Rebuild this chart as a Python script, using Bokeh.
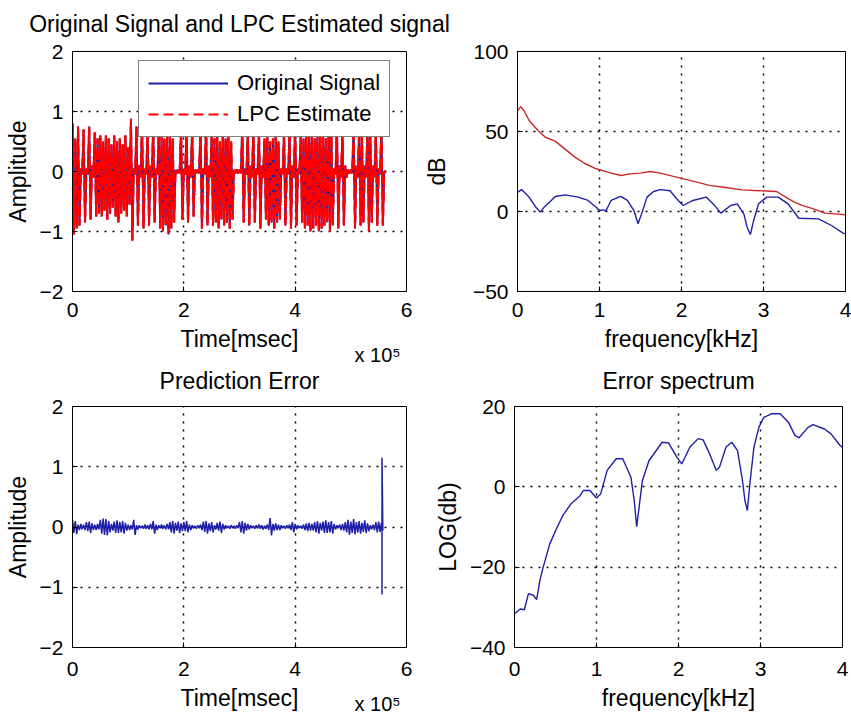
from bokeh.plotting import figure
from bokeh.layouts import row, column
from bokeh.models import Legend, LegendItem, FixedTicker, Range1d, LinearAxis
from bokeh.embed import file_html
from bokeh.resources import INLINE

FONT = "Liberation Sans"
BLUE = "#1f1fa8"
RED_DENSE = "#ff0000"
RED_LINE = "#c62a2a"

# ---------------- data (time in units of 1e5 msec) ----------------
SIG_STEP = 0.05
# envelope of signal read per 0.05e5 msec (upper / lower excursion)
sig_hi = [0.80, 0.55, 0.75, 0.05, 0.70, 0.05, 0.75, 0.10, 0.65, 0.55,
          0.60, 0.50, 0.60, 0.55, 0.45, 0.60, 0.50, 0.55, 0.45, 0.60,
          0.40, 0.88, 0.05, 0.75, 0.10, 0.80, 0.05, 0.70, 0.10, 0.75,
          0.05, 0.65, 0.60, 0.55, 0.65, 0.60, 0.55, 0.03, 0.03, 0.70,
          0.05, 0.75, 0.10, 0.70, 0.03, 0.03, 0.75, 0.05, 0.80, 0.10,
          0.60, 0.55, 0.60, 0.50, 0.65, 0.55, 0.60, 0.50, 0.03, 0.03,
          0.03, 0.75, 0.05, 0.70, 0.10, 0.75, 0.05, 0.70, 0.10, 0.55,
          0.60, 0.50, 0.55, 0.60, 0.50, 0.05, 0.65, 0.05, 0.70, 0.10,
          0.75, 0.05, 0.60, 0.55, 0.65, 0.60, 0.70, 0.55, 0.65, 0.60,
          0.70, 0.55, 0.65, 0.60, 0.05, 0.75, 0.10, 0.70, 0.10, 0.03,
          0.03, 0.75, 0.10, 0.70, 0.60, 0.10, 0.75, 0.60, 0.10, 0.70,
          0.05, 0.75, 0.00]
sig_lo = [-1.05, -0.95, -0.90, -0.05, -0.85, -0.05, -0.80, -0.10, -0.75, -0.70,
          -0.75, -0.65, -0.80, -0.70, -0.60, -0.75, -0.85, -0.70, -0.65, -0.75,
          -0.55, -1.15, -0.05, -0.90, -0.10, -0.95, -0.05, -0.90, -0.10, -0.85,
          -0.05, -0.95, -1.00, -0.90, -1.05, -0.95, -0.85, -0.03, -0.03, -0.80,
          -0.05, -0.85, -0.10, -0.75, -0.03, -0.03, -0.95, -0.05, -0.90, -0.10,
          -0.90, -0.85, -0.95, -0.80, -0.90, -0.85, -0.95, -0.80, -0.03, -0.03,
          -0.03, -0.85, -0.05, -0.90, -0.10, -0.85, -0.05, -0.95, -0.10, -0.80,
          -0.90, -0.85, -0.95, -0.85, -0.80, -0.05, -0.90, -0.05, -0.95, -0.10,
          -0.90, -0.05, -0.85, -0.95, -0.90, -1.00, -0.95, -0.90, -1.00, -0.95,
          -0.90, -0.85, -1.00, -0.90, -0.05, -0.95, -0.10, -0.90, -0.10, -0.03,
          -0.03, -0.95, -0.10, -0.90, -0.85, -0.10, -1.00, -0.85, -0.10, -0.90,
          -0.05, -0.90, 0.00]

# prediction error envelope per 0.05e5 msec
err_hi = [0.12, 0.10, 0.04, 0.05, 0.04, 0.08, 0.09, 0.06, 0.04, 0.05,
          0.12, 0.14, 0.13, 0.10, 0.05, 0.09, 0.11, 0.08, 0.10, 0.07,
          0.04, 0.03, 0.12, 0.03, 0.03, 0.02, 0.04, 0.03, 0.05, 0.10,
          0.04, 0.03, 0.04, 0.03, 0.05, 0.08, 0.10, 0.07, 0.09, 0.06,
          0.08, 0.10, 0.04, 0.03, 0.02, 0.03, 0.04, 0.09, 0.10, 0.06,
          0.08, 0.03, 0.07, 0.09, 0.05, 0.03, 0.02, 0.03, 0.02, 0.03,
          0.08, 0.10, 0.07, 0.05, 0.03, 0.02, 0.03, 0.04, 0.03, 0.02,
          0.04, 0.15, 0.05, 0.06, 0.04, 0.03, 0.02, 0.03, 0.04, 0.08,
          0.05, 0.03, 0.02, 0.04, 0.06, 0.07, 0.05, 0.08, 0.10, 0.07,
          0.09, 0.11, 0.08, 0.10, 0.05, 0.03, 0.04, 0.05, 0.08, 0.12,
          0.09, 0.13, 0.08, 0.10, 0.07, 0.11, 0.06, 0.03, 0.04, 0.08,
          0.09, 0.07]
err_lo = [-0.10, -0.12, -0.05, -0.04, -0.05, -0.07, -0.10, -0.05, -0.05, -0.04,
          -0.11, -0.13, -0.14, -0.09, -0.06, -0.10, -0.10, -0.09, -0.11, -0.06,
          -0.05, -0.04, -0.13, -0.04, -0.02, -0.03, -0.03, -0.04, -0.04, -0.11,
          -0.05, -0.02, -0.03, -0.04, -0.04, -0.09, -0.11, -0.06, -0.10, -0.07,
          -0.07, -0.09, -0.05, -0.02, -0.03, -0.02, -0.05, -0.08, -0.11, -0.07,
          -0.09, -0.04, -0.06, -0.10, -0.04, -0.02, -0.03, -0.02, -0.03, -0.02,
          -0.09, -0.11, -0.06, -0.04, -0.02, -0.03, -0.02, -0.03, -0.04, -0.03,
          -0.05, -0.14, -0.06, -0.05, -0.05, -0.02, -0.03, -0.02, -0.05, -0.09,
          -0.04, -0.02, -0.03, -0.05, -0.07, -0.06, -0.06, -0.09, -0.11, -0.06,
          -0.10, -0.10, -0.09, -0.11, -0.04, -0.02, -0.05, -0.06, -0.09, -0.13,
          -0.10, -0.12, -0.09, -0.11, -0.08, -0.10, -0.07, -0.04, -0.05, -0.09,
          -0.08, -0.06]
spike_t = 5.56
spike_hi = 1.15
spike_lo = -1.12

# spectra
lpc_f = [0.00, 0.04, 0.08, 0.14, 0.25, 0.34, 0.46, 0.58, 0.70, 0.82,
         0.96, 1.10, 1.26, 1.37, 1.50, 1.62, 1.74, 1.94, 2.14, 2.34,
         2.54, 2.74, 2.95, 3.16, 3.27, 3.37, 3.47, 3.60, 3.75, 3.88, 4.00]
lpc_db = [63.0, 65.5, 63.0, 57.0, 50.6, 46.4, 44.0, 39.0, 34.0, 30.0,
          26.7, 24.6, 22.5, 23.5, 24.0, 25.0, 24.0, 21.5, 19.0, 16.3,
          15.0, 13.5, 13.0, 12.5, 9.0, 6.0, 3.8, 1.8, -1.0, -1.5, -2.0]

orig_f = [0.00, 0.05, 0.14, 0.22, 0.28, 0.33, 0.39, 0.46, 0.58, 0.74,
          0.86, 0.96, 1.00, 1.04, 1.08, 1.14, 1.26, 1.34, 1.42, 1.47,
          1.52, 1.58, 1.66, 1.74, 1.86, 1.96, 2.02, 2.14, 2.30, 2.40,
          2.48, 2.60, 2.68, 2.76, 2.80, 2.84, 2.88, 2.94, 3.04, 3.18,
          3.30, 3.43, 3.67, 3.83, 3.97, 4.00]
orig_db = [12.0, 13.7, 9.0, 3.0, -0.4, 3.0, 5.8, 9.4, 10.4, 9.0,
           6.9, 2.7, 0.6, 1.0, 0.5, 6.9, 9.4, 6.9, 0.6, -7.7,
           -0.4, 9.0, 12.5, 13.7, 13.0, 6.9, 3.75, 6.9, 9.0, 4.0,
           -1.0, 3.75, 4.8, -1.5, -9.8, -14.4, -5.6, 4.8, 9.0, 9.0,
           4.8, -4.2, -4.6, -8.75, -13.5, -14.0]

errspec_f = [0.00, 0.07, 0.12, 0.17, 0.23, 0.27, 0.31, 0.35, 0.43, 0.51,
             0.59, 0.69, 0.80, 0.84, 0.92, 1.00, 1.05, 1.13, 1.24, 1.32,
             1.42, 1.46, 1.49, 1.52, 1.56, 1.64, 1.80, 1.88, 1.98, 2.04,
             2.14, 2.24, 2.30, 2.38, 2.46, 2.50, 2.58, 2.65, 2.72, 2.78,
             2.81, 2.84, 2.87, 2.92, 2.98, 3.04, 3.14, 3.24, 3.34, 3.42,
             3.47, 3.58, 3.64, 3.78, 3.86, 3.97, 4.00]
errspec_db = [-31.6, -30.4, -30.6, -26.6, -27.0, -28.1, -23.3, -20.0, -14.2, -10.5,
              -7.1, -4.2, -2.2, -0.9, -0.9, -2.8, -1.8, 4.1, 7.0, 7.0,
              2.4, -3.4, -9.9, -5.0, 1.6, 6.5, 11.1, 10.9, 7.4, 5.7,
              9.9, 12.0, 11.7, 8.2, 4.1, 4.9, 9.9, 11.1, 9.0, 1.6,
              -3.4, -5.9, 0.7, 9.9, 14.8, 17.3, 18.2, 18.2, 16.1, 12.8,
              12.2, 14.8, 15.5, 14.4, 13.2, 10.3, 9.8]

time_ticks = [0, 2, 4, 6]
amp_ticks = [-2, -1, 0, 1, 2]
freq_ticks = [0, 1, 2, 3, 4]
db_ticks = [-50, 0, 50, 100]
log_ticks = [-40, -20, 0, 20]
exponent_text = "x 10\u2075"
EXPONENT_AT = 5.48   # where the "x 10^5" multiplier sits along the time axis


def zigzag(hi, lo, step):
    xs, ys = [], []
    for i, (h, l) in enumerate(zip(hi, lo)):
        t = i * step
        xs += [t, t + step / 2]
        ys += [h, l]
    return xs, ys


def make_fig(xr, yr, xt, yt, xlabel, ylabel, title, fw, fh,
             mbl, mbr, mbt, mbb, ylab_standoff, xtick_standoff,
             title_standoff=12):
    p = figure(frame_width=fw, frame_height=fh,
               x_range=Range1d(*xr), y_range=Range1d(*yr),
               output_backend="svg", toolbar_location=None, tools="",
               min_border_left=mbl, min_border_right=mbr,
               min_border_top=mbt, min_border_bottom=mbb,
               title=title)
    p.background_fill_color = "white"
    p.border_fill_alpha = 0
    p.outline_line_color = "black"
    p.outline_line_width = 1
    p.outline_line_alpha = 1
    if title:
        p.title.text_font = FONT
        p.title.text_font_size = "23px"
        p.title.text_font_style = "normal"
        p.title.text_color = "black"
        p.title.align = "center"
        p.title.standoff = title_standoff
    p.xaxis.ticker = FixedTicker(ticks=xt)
    p.yaxis.ticker = FixedTicker(ticks=yt)
    p.xgrid.ticker = FixedTicker(ticks=xt)
    p.ygrid.ticker = FixedTicker(ticks=yt)
    p.xaxis.axis_label = xlabel
    p.yaxis.axis_label = ylabel
    for ax in (p.xaxis[0], p.yaxis[0]):
        ax.major_label_text_font = FONT
        ax.major_label_text_font_size = "21px"
        ax.major_label_text_color = "black"
        ax.axis_label_text_font = FONT
        ax.axis_label_text_font_size = "23px"
        ax.axis_label_text_font_style = "normal"
        ax.axis_label_text_color = "black"
        ax.axis_line_color = "black"
        ax.major_tick_line_color = "black"
        ax.major_tick_in = 5
        ax.major_tick_out = 0
        ax.minor_tick_line_color = None
    p.xaxis.major_label_standoff = xtick_standoff
    p.yaxis.major_label_standoff = 9
    p.xaxis.axis_label_standoff = 6
    p.yaxis.axis_label_standoff = ylab_standoff
    p.grid.grid_line_color = "black"
    p.grid.grid_line_dash = "2 6"
    p.grid.grid_line_width = 1.5
    p.grid.grid_line_alpha = 1
    return p


def add_exponent(p, standoff):
    ax = LinearAxis(ticker=FixedTicker(ticks=[EXPONENT_AT]),
                    major_label_overrides={EXPONENT_AT: exponent_text})
    ax.axis_line_color = None
    ax.major_tick_line_color = None
    ax.minor_tick_line_color = None
    ax.major_tick_in = 0
    ax.major_tick_out = 0
    ax.major_label_standoff = standoff
    ax.major_label_text_font = FONT
    ax.major_label_text_font_size = "20px"
    ax.major_label_text_color = "black"
    p.add_layout(ax, "below")


# ---- top-left: signal vs LPC estimate ----
p1 = make_fig((0, 6), (-2, 2), time_ticks, amp_ticks, "Time[msec]", "Amplitude",
              "Original Signal and LPC Estimated signal", 334, 240,
              72, 54, 60, 84, 6, 11, title_standoff=29)
sx, sy = zigzag(sig_hi, sig_lo, SIG_STEP)
r_orig = p1.line(sx, sy, line_color=BLUE, line_width=2)
r_lpc = p1.line(sx, sy, line_color=RED_DENSE, line_width=2, line_dash="10 5")
p1.line(sx, sy, line_color=RED_DENSE, line_width=2, line_dash="10 5",
        line_dash_offset=3)
leg = Legend(items=[LegendItem(label="Original Signal", renderers=[r_orig]),
                    LegendItem(label="LPC Estimate", renderers=[r_lpc])],
             location=(66, 154))
leg.label_text_font = FONT
leg.label_text_font_size = "22px"
leg.label_text_color = "black"
leg.glyph_width = 80
leg.glyph_height = 24
leg.label_height = 24
leg.label_standoff = 9
leg.padding = 9
leg.spacing = 5
leg.margin = 0
leg.border_line_color = "black"
leg.border_line_width = 1
leg.background_fill_color = "white"
leg.background_fill_alpha = 1
p1.add_layout(leg)
add_exponent(p1, -11)

# ---- top-right: spectra ----
p2 = make_fig((0, 4), (-50, 100), freq_ticks, db_ticks, "frequency[kHz]", "dB",
              None, 328, 240, 94, 9, 60, 84, 20, 11)
p2.line(lpc_f, lpc_db, line_color=RED_LINE, line_width=1.4)
p2.line(orig_f, orig_db, line_color=BLUE, line_width=1.4)
p2.margin = (0, 0, 0, -40)

# ---- bottom-left: prediction error ----
p3 = make_fig((0, 6), (-2, 2), time_ticks, amp_ticks, "Time[msec]", "Amplitude",
              "Prediction Error", 334, 241, 72, 54, 55, 73, 6, 14, title_standoff=26)
ex, ey = zigzag(err_hi, err_lo, SIG_STEP)
ex += [spike_t, spike_t, spike_t]
ey += [spike_hi, spike_lo, 0.0]
p3.line(ex, ey, line_color=BLUE, line_width=1.5)
add_exponent(p3, -21)

# ---- bottom-right: error spectrum ----
p4 = make_fig((0, 4), (-40, 20), freq_ticks, log_ticks, "frequency[kHz]", "LOG(db)",
              "Error spectrum", 328, 241, 94, 9, 55, 73, 6, 14, title_standoff=26)
p4.line(errspec_f, errspec_db, line_color=BLUE, line_width=1.4)
p4.margin = (0, 0, 0, -40)

layout = column(row(p1, p2, margin=(-9, 0, 0, 0)),
                row(p3, p4, margin=(-24, 0, 0, 0)))
open("out.html", "w").write(file_html(layout, INLINE))
